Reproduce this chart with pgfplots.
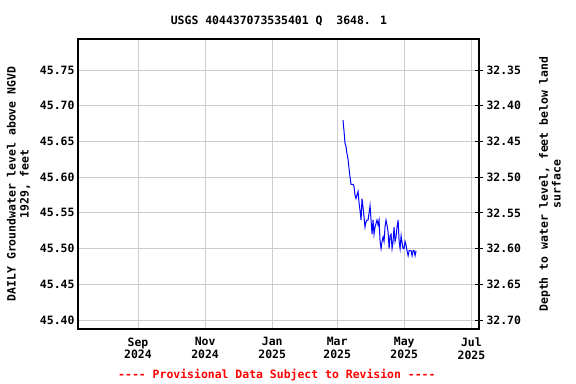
\documentclass[border=0pt]{standalone}
\usepackage{pgfplots}
\pgfplotsset{compat=1.18}
\usepackage{fontspec}
\setmainfont{DejaVu Sans Mono}
\newcommand{\myfont}{\fontsize{11.5}{13}\selectfont\bfseries}
\begin{document}
\begin{tikzpicture}
\path[use as bounding box] (-78bp,-55bp) rectangle (498bp,329bp);
\begin{axis}[
  at={(0,0)}, anchor=south west,
  scale only axis, width=401bp, height=290bp,
  clip mode=individual,
  xmin=-54.5, xmax=309.9, ymin=45.3874, ymax=45.7934,
  xtick={0,61,122,181,242,303},
  xticklabels={{Sep\\2024},{Nov\\2024},{Jan\\2025},{Mar\\2025},{May\\2025},{Jul\\2025}},
  xticklabel style={align=center, font=\myfont, yshift=-5bp},
  ytick={45.40,45.45,45.50,45.55,45.60,45.65,45.70,45.75},
  yticklabels={45.40,45.45,45.50,45.55,45.60,45.65,45.70,45.75},
  yticklabel style={font=\myfont},
  grid=major, major grid style={draw=black!20, line width=0.9bp},
  major tick length=0pt,
  axis line style={line width=1.1bp},
  ylabel={DAILY Groundwater level above NGVD\\1929, feet},
  ylabel style={at={(axis description cs:-0.148,0.5)}, anchor=center, align=center, font=\myfont},
  title={USGS 404437073535401 Q\ \ 3648. 1},
  title style={at={(axis description cs:0.501,1)}, anchor=base, yshift=9bp, font=\myfont},
]
\addplot[blue, line width=1bp] coordinates {
(186.3,45.680) (187.2,45.665) (188.1,45.648) (189.0,45.643) (189.9,45.633)
(190.9,45.625) (191.8,45.612) (192.7,45.600) (193.6,45.590) (194.5,45.590)
(195.4,45.590) (196.3,45.587) (197.2,45.575) (198.1,45.570) (199.0,45.575)
(200.0,45.580) (200.9,45.564) (201.8,45.553) (202.7,45.540) (203.6,45.570)
(204.5,45.558) (205.4,45.545) (206.3,45.530) (207.2,45.537) (208.1,45.540)
(209.1,45.540) (210.0,45.550) (210.9,45.560) (211.8,45.540) (212.7,45.520)
(213.6,45.540) (214.5,45.520) (215.4,45.530) (216.3,45.535) (217.2,45.540)
(218.2,45.533) (219.1,45.540) (220.0,45.510) (220.9,45.500) (221.8,45.510)
(222.7,45.516) (223.6,45.510) (224.5,45.530) (225.4,45.540) (226.3,45.533)
(227.3,45.523) (228.2,45.500) (229.1,45.518) (230.0,45.520) (230.9,45.500)
(231.8,45.510) (232.7,45.530) (233.6,45.510) (234.5,45.516) (235.4,45.530)
(236.4,45.540) (237.3,45.510) (238.2,45.500) (239.1,45.518) (240.0,45.508)
(240.9,45.500) (241.8,45.500) (242.7,45.510) (243.6,45.505) (244.5,45.497)
(245.5,45.490) (246.4,45.497) (247.3,45.497) (248.2,45.497) (249.1,45.490)
(250.0,45.497) (250.9,45.497) (251.8,45.490) (252.7,45.497)
};
\node[text=red, font=\myfont] at (axis description cs:0.496,-0.1586) {{-}{-}{-}{-} Provisional Data Subject to Revision {-}{-}{-}{-}};
\end{axis}
\begin{axis}[
  at={(0,0)}, anchor=south west,
  scale only axis, width=401bp, height=290bp,
  xmin=-54.5, xmax=309.9, ymin=32.3066, ymax=32.7126,
  y dir=reverse,
  axis x line=none, axis y line*=right,
  ytick={32.35,32.40,32.45,32.50,32.55,32.60,32.65,32.70},
  yticklabels={32.35,32.40,32.45,32.50,32.55,32.60,32.65,32.70},
  yticklabel style={font=\myfont},
  major tick length=8bp, tick align=center,
  tick style={draw=black, line width=1bp},
  axis line style={line width=1.1bp},
  ylabel={Depth to water level, feet below land\\surface},
  ylabel style={at={(axis description cs:1.177,0.5)}, anchor=center, align=center, font=\myfont},
]
\end{axis}
\end{tikzpicture}
\end{document}
